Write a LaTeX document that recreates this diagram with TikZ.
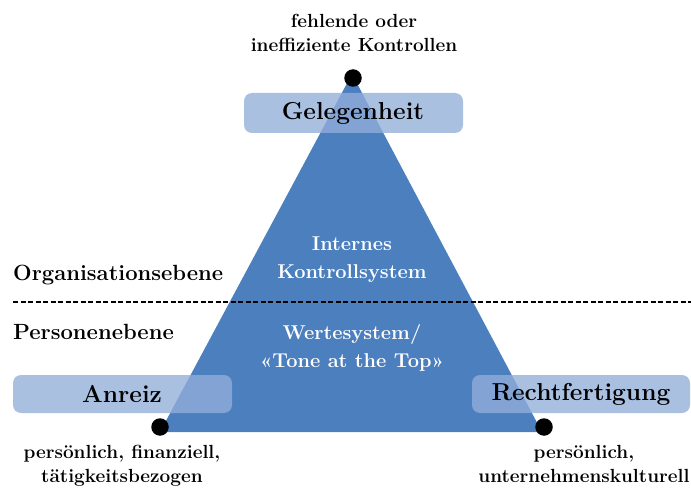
\documentclass[tikz,border=0pt]{standalone}
\usetikzlibrary{calc}
\definecolor{triblue}{RGB}{76,127,190}
\definecolor{boxblue}{RGB}{146,174,217}
\tikzset{
  lbox/.style={fill=boxblue, fill opacity=0.78, rounded corners=8pt, draw=none},
  boxlabel/.style={font=\fontsize{24.5}{28}\selectfont\bfseries, text=black, inner sep=0pt},
  note/.style={font=\fontsize{19}{23.5}\selectfont\bfseries, align=center, inner sep=0pt},
  inner/.style={font=\fontsize{20}{28.5}\selectfont\bfseries, align=center, text=white, inner sep=0pt},
  level/.style={font=\fontsize{22}{26}\selectfont\bfseries, anchor=west, inner sep=0pt},
  corner/.style={circle, fill=black, inner sep=0pt, minimum size=17.5pt},
}
\begin{document}
\begin{tikzpicture}[x=1pt, y=-1pt]
  \useasboundingbox (0,0) rectangle (691,489);

  % triangle corners
  \coordinate (apex) at (352,74);
  \coordinate (bl) at (160,432);
  \coordinate (br) at (542,432);
  \fill[triblue] (apex) -- (bl) -- (br) -- cycle;

  % separator between the two levels
  \coordinate (sepL) at (13,302);
  \coordinate (sepR) at (691,302);
  \draw[black, line width=1.7pt, dash pattern=on 5pt off 2.5pt] (sepL) -- (sepR);

  % labelled boxes at the corners
  \fill[lbox] (244,93) rectangle (463,133);
  \fill[lbox] (13,375) rectangle (232,413);
  \fill[lbox] (472,375) rectangle (690,413);

  \node[boxlabel] (gel) at (353,113) {Gelegenheit};
  \node[boxlabel] (anr) at (122,394) {Anreiz};
  \node[boxlabel] (rec) at (581,394) {Rechtfertigung};

  % corner points
  \node[corner] (dtop) at (353,78) {};
  \node[corner] (dleft) at (160,427) {};
  \node[corner] (dright) at (544,427) {};

  % descriptions of the corners
  \node[note] (ntop) at (354,35) {fehlende oder\strut\\ineffiziente Kontrollen\strut};
  \node[note] (nleft) at (122,466) {persönlich, finanziell,\strut\\tätigkeitsbezogen\strut};
  \node[note] (nright) at (584,466) {persönlich,\strut\\unternehmenskulturell\strut};

  % texts inside the triangle
  \node[inner] (iks) at (352,259) {Internes\strut\\Kontrollsystem\strut};
  \node[inner] (wer) at (352,348) {Wertesystem/\strut\\«Tone at the Top»\strut};

  % level names
  \node[level] (org) at (13,275) {Organisationsebene};
  \node[level] (per) at (13,332) {Personenebene};
\end{tikzpicture}
\end{document}
